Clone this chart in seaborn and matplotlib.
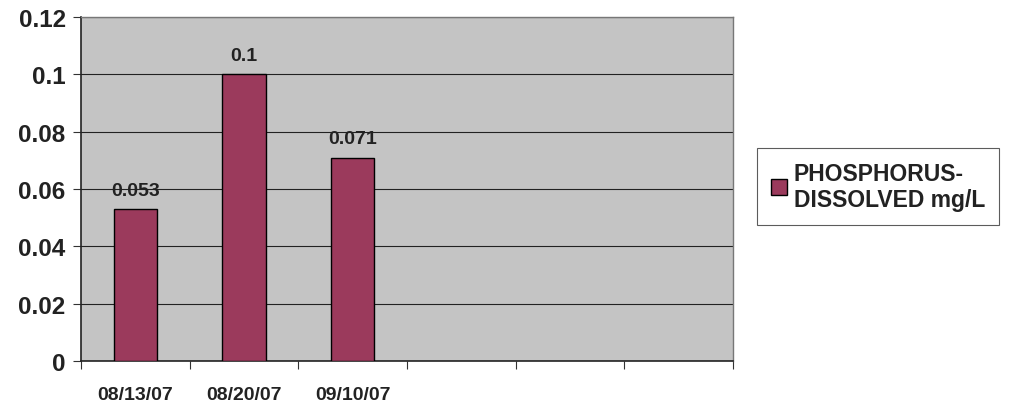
import pandas as pd
import matplotlib.pyplot as plt
import seaborn as sns

dates = ['08/13/07', '08/20/07', '09/10/07']
empty_slots = ['', ' ', '  ']
phosphorus = [0.053, 0.1, 0.071]
value_labels = ['0.053', '0.1', '0.071']
yticks = [0, 0.02, 0.04, 0.06, 0.08, 0.1, 0.12]
ytick_labels = ['0', '0.02', '0.04', '0.06', '0.08', '0.1', '0.12']

df = pd.DataFrame({'date': dates, 'value': phosphorus})

sns.set_style('white')
plt.rcParams['font.family'] = ['Liberation Sans', 'DejaVu Sans']
plt.rcParams['font.weight'] = 'bold'

fig = plt.figure(figsize=(10.09, 4.02), dpi=100)
ax = fig.add_axes([0.0803, 0.0995, 0.6462, 0.8555])
ax.set_facecolor('#c4c4c4')

sns.barplot(x='date', y='value', data=df, order=dates + empty_slots,
            color='#9b3a5c', saturation=1, width=0.4, edgecolor='black',
            linewidth=1, label='PHOSPHORUS-\nDISSOLVED mg/L', ax=ax, zorder=3)

for i, (v, t) in enumerate(zip(phosphorus, value_labels)):
    ax.text(i, v + 0.0035, t, ha='center', va='bottom', fontsize=14,
            fontweight='bold', color='#222222')

ax.set_ylim(0, 0.12)
ax.set_xlim(-0.5, 5.5)
ax.set_yticks(yticks)
ax.set_yticklabels(ytick_labels, fontsize=17.5, fontweight='bold', color='#222222')
ax.set_xticks(range(6))
ax.set_xticklabels(dates + empty_slots, fontsize=14, fontweight='bold', color='#222222')
ax.set_xticks([x - 0.5 for x in range(7)], minor=True)
ax.tick_params(axis='x', which='major', bottom=True, length=0, pad=18)
ax.tick_params(axis='x', which='minor', bottom=True, length=6, width=0.8, direction='out', color='#333333')
ax.tick_params(axis='y', left=True, length=6, width=0.8, direction='out', color='#333333', pad=5)
ax.yaxis.grid(True, color='#222222', linewidth=0.8, zorder=1)
ax.set_axisbelow(True)
ax.set_xlabel('')
ax.set_ylabel('')

for side in ['top', 'right']:
    ax.spines[side].set_color('#777777')
    ax.spines[side].set_linewidth(1)
for side in ['left', 'bottom']:
    ax.spines[side].set_color('#222222')
    ax.spines[side].set_linewidth(1.2)

leg = ax.legend(loc='center left', bbox_to_anchor=(0.739, 0.534), bbox_transform=fig.transFigure,
                frameon=True, fancybox=False, edgecolor='#333333',
                handlelength=0.7, handleheight=0.7, handletextpad=0.3, borderpad=0.6,
                prop={'weight': 'bold', 'size': 16.5})
leg.get_frame().set_linewidth(0.8)
for t in leg.get_texts():
    t.set_color('#222222')

fig.savefig('out.png', dpi=100)
